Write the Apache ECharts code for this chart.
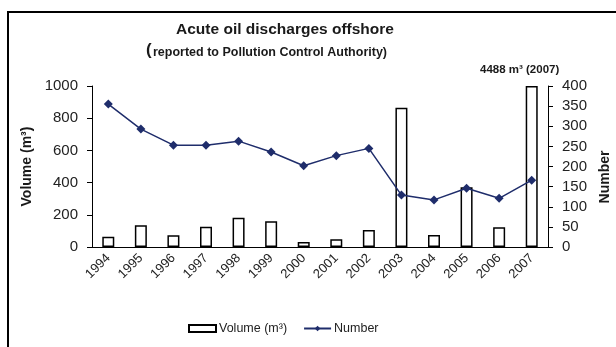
<!DOCTYPE html>
<html>
<head>
<meta charset="utf-8" />
<title></title>
<script type="text/javascript" src="https://cdn.jsdelivr.net/npm/echarts@6/dist/echarts.min.js"></script>
</head>
<body style="margin:0;background:#fff;">
<div id="chart" style="width:616px;height:347px;"></div>
<script type="text/javascript">
var years = ['1994', '1995', '1996', '1997', '1998', '1999', '2000', '2001', '2002', '2003', '2004', '2005', '2006', '2007'];
// volume m3 (2007 is 4488, drawn clipped at the axis max)
var volume = [64, 135, 73, 126, 182, 160, 31, 48, 106, 865, 75, 371, 122, 4488];
// number of discharges
var number = [355, 293, 253, 253, 263, 236, 202, 227, 245, 129, 117, 146, 121, 166];

var font = 'Liberation Sans, Arial, sans-serif';
var chart = echarts.init(document.getElementById('chart'));
chart.setOption({
	backgroundColor: '#fff',
	animation: false,
	textStyle: { fontFamily: font },
	graphic: [
		{ type: 'rect', shape: { x: 8, y: 12, width: 620, height: 345 },
		  style: { fill: 'none', stroke: '#000', lineWidth: 2 } },
		{ type: 'text', x: 285, y: 22,
		  style: { text: 'Acute oil discharges offshore', font: 'bold 15.5px ' + font, fill: '#1a1a1a', align: 'center' } },
		{ type: 'text', x: 146, y: 42,
		  style: { text: '(', font: 'bold 17px ' + font, fill: '#1a1a1a' } },
		{ type: 'text', x: 153, y: 46,
		  style: { text: 'reported to Pollution Control Authority)', font: 'bold 12.5px ' + font, fill: '#1a1a1a' } },
		// 2007 bar runs off the axis
		{ type: 'text', x: 480, y: 64,
		  style: { text: '4488 m\u00b3 (2007)', font: 'bold 11.5px ' + font, fill: '#1a1a1a' } },
		{ type: 'text', x: 605, y: 177, rotation: Math.PI / 2,
		  style: { text: 'Number', font: 'bold 14px ' + font, fill: '#1a1a1a', align: 'center', verticalAlign: 'middle' } }
	],
	legend: {
		bottom: 7, left: 183, itemGap: 16, itemWidth: 27, itemHeight: 7,
		textStyle: { fontSize: 12.5, color: '#222', fontFamily: font, padding: [0, 0, 0, -2] },
		data: [
			{ name: 'Volume (m\u00b3)', icon: 'rect' },
			{ name: 'Number' }
		]
	},
	grid: { left: 92, right: 68, top: 86, bottom: 100 },
	xAxis: {
		type: 'category', data: years,
		axisLine: { lineStyle: { color: '#000' } },
		axisTick: { lineStyle: { color: '#000' }, length: 5 },
		axisLabel: { rotate: 45, fontSize: 13, color: '#222', margin: 9 }
	},
	yAxis: [
		{
			type: 'value', min: 0, max: 1000, interval: 200,
			name: 'Volume (m\u00b3)', nameLocation: 'middle', nameGap: 54,
			nameTextStyle: { fontSize: 14, fontWeight: 'bold', color: '#1a1a1a' },
			axisLine: { show: true, lineStyle: { color: '#000' } },
			axisTick: { show: true, length: 5, lineStyle: { color: '#000' } },
			axisLabel: { fontSize: 15, color: '#222', margin: 14, formatter: function (v) { return String(v); } },
			splitLine: { show: false }
		},
		{
			type: 'value', min: 0, max: 400, interval: 50,
			axisLine: { show: true, lineStyle: { color: '#000' } },
			axisTick: { show: true, length: 5, lineStyle: { color: '#000' } },
			axisLabel: { fontSize: 15, color: '#222', margin: 14 },
			splitLine: { show: false }
		}
	],
	series: [
		{
			name: 'Volume (m\u00b3)', type: 'bar', yAxisIndex: 0,
			data: volume.map(function (v) { return Math.min(v, 1000); }),
			barWidth: 12,
			itemStyle: { color: '#fff', borderColor: '#000', borderWidth: 1.5 }
		},
		{
			name: 'Number', type: 'line', yAxisIndex: 1, data: number,
			symbol: 'diamond', symbolSize: 9,
			lineStyle: { color: '#1F2D6B', width: 1.5 },
			itemStyle: { color: '#1F2D6B' }
		}
	]
});
</script>
</body>
</html>
